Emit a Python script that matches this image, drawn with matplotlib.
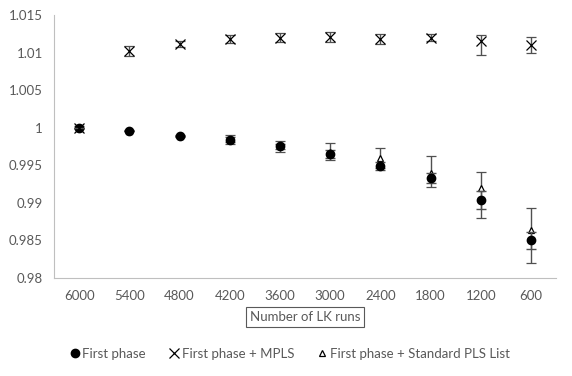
import numpy as np
import matplotlib.pyplot as plt
from matplotlib.lines import Line2D

# LK run counts (categories on x axis)
runs = ["6000", "5400", "4800", "4200", "3600", "3000", "2400", "1800", "1200", "600"]

# First phase
first = [1.0, 0.9996, 0.9989, 0.9984, 0.9975, 0.9965, 0.9949, 0.9933, 0.9904, 0.9850]
first_err = [0.0002, 0.0001, 0.0001, 0.0003, 0.0003, 0.0005, 0.0005, 0.0007, 0.0012, 0.0011]

# First phase + MPLS
mpls = [1.0, 1.0102, 1.0112, 1.0118, 1.0120, 1.0121, 1.0118, 1.0120, 1.0116, 1.0110]
mpls_err_lo = [0.0, 0.0007, 0.0004, 0.0005, 0.0006, 0.0007, 0.0007, 0.0005, 0.0019, 0.0011]
mpls_err_hi = [0.0, 0.0007, 0.0004, 0.0005, 0.0006, 0.0007, 0.0007, 0.0005, 0.0007, 0.0011]

# First phase + Standard PLS List
std = [1.0, 0.9996, 0.9989, 0.9984, 0.9975, 0.9968, 0.9960, 0.9940, 0.9920, 0.9864]
std_err_lo = [0.0, 0.0, 0.0, 0.0006, 0.0007, 0.0011, 0.0013, 0.0019, 0.0040, 0.0044]
std_err_hi = [0.0, 0.0, 0.0, 0.0006, 0.0007, 0.0011, 0.0013, 0.0023, 0.0021, 0.0029]

plt.rcParams['font.family'] = ['Lato', 'DejaVu Sans']
grey = '#595959'
x = np.arange(len(runs))

fig = plt.figure(figsize=(5.72, 3.76), dpi=100)
ax = fig.add_axes([54 / 572, 1 - 278 / 376, 502 / 572, 263 / 376])

ax.errorbar(x, std, yerr=[std_err_lo, std_err_hi], fmt='^', ms=4.5, mfc='white',
            mec='black', mew=0.9, ecolor='#505050', elinewidth=1, capsize=3.5, zorder=3)
ax.errorbar(x, first, yerr=first_err, fmt='o', ms=6, color='black',
            ecolor='#505050', elinewidth=1, capsize=3.5, zorder=4)
ax.errorbar(x, mpls, yerr=[mpls_err_lo, mpls_err_hi], fmt='x', ms=7, mew=0.9,
            color='black', ecolor='#505050', elinewidth=1, capsize=3.5, zorder=5)

ax.set_xlim(-0.5, len(runs) - 0.5)
ax.set_ylim(0.98, 1.015)
ax.set_yticks([0.98, 0.985, 0.99, 0.995, 1.0, 1.005, 1.01, 1.015])
ax.set_yticklabels(["0.98", "0.985", "0.99", "0.995", "1", "1.005", "1.01", "1.015"])
ax.set_xticks(x)
ax.set_xticklabels(runs)
ax.tick_params(length=0, labelsize=9.5, colors=grey, pad=9)
ax.tick_params(axis='y', pad=8)
for s in ['top', 'right']:
    ax.spines[s].set_visible(False)
for s in ['left', 'bottom']:
    ax.spines[s].set_color('#bfbfbf')

ax.set_xlabel("Number of LK runs", fontsize=9.5, color=grey, labelpad=6,
              bbox=dict(boxstyle='square,pad=0.3', fc='white', ec=grey, lw=0.8))

handles = [
    Line2D([], [], marker='o', ls='none', color='black', ms=6),
    Line2D([], [], marker='x', ls='none', color='black', ms=7, mew=0.9),
    Line2D([], [], marker='^', ls='none', mfc='white', mec='black', ms=4.5, mew=0.9),
]
labels = ["First phase", "First phase + MPLS", "First phase + Standard PLS List"]
fig.legend(handles, labels, loc='center', bbox_to_anchor=(0.505, 1 - 354 / 376), ncol=3,
           frameon=False, fontsize=9.5, handletextpad=0.1, columnspacing=1.6,
           handlelength=1.0, labelcolor=grey)

fig.savefig("out.png", dpi=100)
